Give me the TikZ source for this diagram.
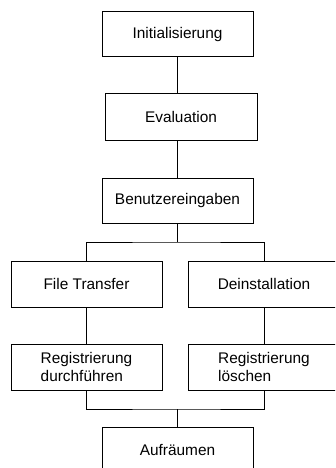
\documentclass[tikz,border=0pt]{standalone}
\usepackage{fontspec}
\setmainfont{Liberation Sans}
\begin{document}
\begin{tikzpicture}[x=1pt,y=-1pt,
  box/.style={draw, line width=1pt, minimum width=151pt, minimum height=45pt, inner sep=0pt,
    font=\fontsize{15.4}{17.6}\selectfont, align=left},
  conn/.style={line width=1pt}]
\useasboundingbox (0,0) rectangle (335,468);
\clip (0,0) rectangle (335,468);
\node[box] (init) at (177.5,34.5) {Initialisierung};
\node[box, minimum width=152pt, minimum height=46pt] (eval) at (181,117) {Evaluation};
\node[box] (benu) at (177.5,200.5) {Benutzereingaben};
\node[box, minimum height=46pt] (ft) at (86.5,284) {File Transfer};
\node[box, minimum width=152pt, minimum height=46pt] (dein) at (264,284) {Deinstallation};
\node[box, minimum height=46pt] (rd) at (86.5,367) {Registrierung\\durchführen};
\node[box, minimum width=152pt, minimum height=46pt] (rl) at (264,367) {Registrierung\\löschen};
\node[box, minimum height=46pt] (auf) at (177.5,450) {Aufräumen};
\coordinate (j1) at (177.5,242);
\coordinate (j2) at (177.5,409);
\draw[conn] (init.south) -- (init.south |- eval.north);
\draw[conn] (init.south |- eval.south) -- (benu.north);
\draw[conn] (benu.south) -- (j1);
\draw[conn] (ft.north) |- (j1) -| (dein.north);
\draw[conn] (ft.south) -- (rd.north);
\draw[conn] (dein.south) -- (rl.north);
\draw[conn] (rd.south) |- (j2) -| (rl.south);
\draw[conn] (j2) -- (auf.north);
\end{tikzpicture}
\end{document}
